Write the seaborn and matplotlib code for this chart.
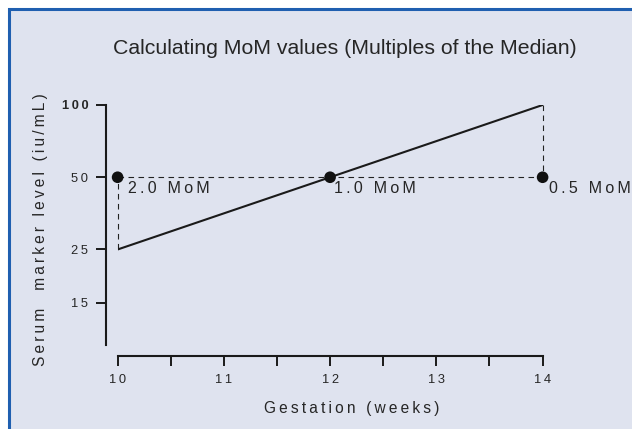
import matplotlib
matplotlib.use("Agg")
import matplotlib.pyplot as plt
import matplotlib.ticker as mticker
from matplotlib.patches import Rectangle
import seaborn as sns
import pandas as pd

# median line and patient samples
weeks = [10, 14]
median_level = [25, 100]
sample_weeks = [10, 12, 14]
sample_level = [50, 50, 50]
mom_labels = ["2.0 MoM", "1.0 MoM", "0.5 MoM"]
y_ticks = [15, 25, 50, 100]
x_ticks = [10, 11, 12, 13, 14]

label_dx = [10, 4, 6]  # px offsets of the MoM labels

sns.set_theme(style="white")
plt.rcParams["font.family"] = ["Liberation Sans", "DejaVu Sans"]

TXT = "#262626"
BG = "#dfe3ef"
BLUE = "#1f5fb0"


def spaced(s, sep="\u2009"):
    return sep.join(s)


fig = plt.figure(figsize=(6.32, 4.29), dpi=100)
fig.patch.set_facecolor("white")
fig.patches.append(Rectangle((9 / 632, -0.1), 1.2, 1.1 - 9 / 429,
                             transform=fig.transFigure, facecolor=BG,
                             edgecolor=BLUE, linewidth=2.2, zorder=-10))

ax = fig.add_axes([117.6 / 632, 1 - 345 / 429, 425 / 632, 240 / 429])
ax.set_facecolor("none")

med = pd.DataFrame({"week": weeks, "level": median_level})
smp = pd.DataFrame({"week": sample_weeks, "level": sample_level, "mom": mom_labels})

# dashed guides
ax.plot([sample_weeks[0], sample_weeks[-1]], [sample_level[0], sample_level[-1]],
        ls=(0, (5, 4)), color="#222222", lw=0.8, clip_on=False)
for w, lv in zip(sample_weeks, sample_level):
    if w in weeks:
        m = median_level[weeks.index(w)]
        ax.plot([w, w], [m, lv], ls=(0, (5, 4)), color="#222222", lw=0.8, clip_on=False)

sns.lineplot(data=med, x="week", y="level", color="#1a1a1a", lw=1.5, ax=ax)
sns.scatterplot(data=smp, x="week", y="level", color="#111111", s=70,
                edgecolor="none", ax=ax, clip_on=False, zorder=5)

for (w, lv, lab), dx in zip(zip(sample_weeks, sample_level, mom_labels), label_dx):
    ax.annotate(spaced(lab), (w, lv), xytext=(dx, -4), textcoords="offset pixels",
                ha="left", va="top", fontsize=11.5, color=TXT, annotation_clip=False)

ax.set_yscale("log")
ax.set_xlim(10, 14)
ax.set_ylim(10, 100)
ax.set_yticks(y_ticks)
ax.set_yticklabels([spaced(str(t)) for t in y_ticks])
ax.yaxis.set_minor_locator(mticker.NullLocator())
ax.set_xticks(x_ticks)
ax.set_xticklabels([spaced(str(t)) for t in x_ticks])
ax.xaxis.set_minor_locator(mticker.FixedLocator([10.5, 11.5, 12.5, 13.5]))

ax.tick_params(axis="both", which="both", direction="out", length=7, width=1.4,
               color="#1a1a1a", labelsize=9.3, labelcolor=TXT, pad=6,
               bottom=True, left=True)

sns.despine(ax=ax, offset=8)
for sp in ("left", "bottom"):
    ax.spines[sp].set_linewidth(1.5)
    ax.spines[sp].set_color("#1a1a1a")
ax.spines["left"].set_bounds(10, 100)
ax.spines["bottom"].set_bounds(10, 14)

ax.set_xlabel(spaced("Gestation (weeks)"), fontsize=11.2, color=TXT, labelpad=11)
ax.xaxis.label.set_x((352 - 117.6) / 425)
ax.set_ylabel(spaced("Serum  marker level (iu/mL)"), fontsize=11.2, color=TXT, labelpad=10)
ax.yaxis.label.set_y(0.48)

fig.text(345 / 632, 1 - 48 / 429, "Calculating MoM values (Multiples of the Median)",
         ha="center", va="center", fontsize=15.3, color=TXT)

# top tick label is heavier in the original
fig.canvas.draw()
for tick in ax.yaxis.get_major_ticks():
    if tick.label1.get_text() == spaced("100"):
        tick.label1.set_fontweight("bold")

fig.savefig("out.png", dpi=100, facecolor=fig.get_facecolor())
